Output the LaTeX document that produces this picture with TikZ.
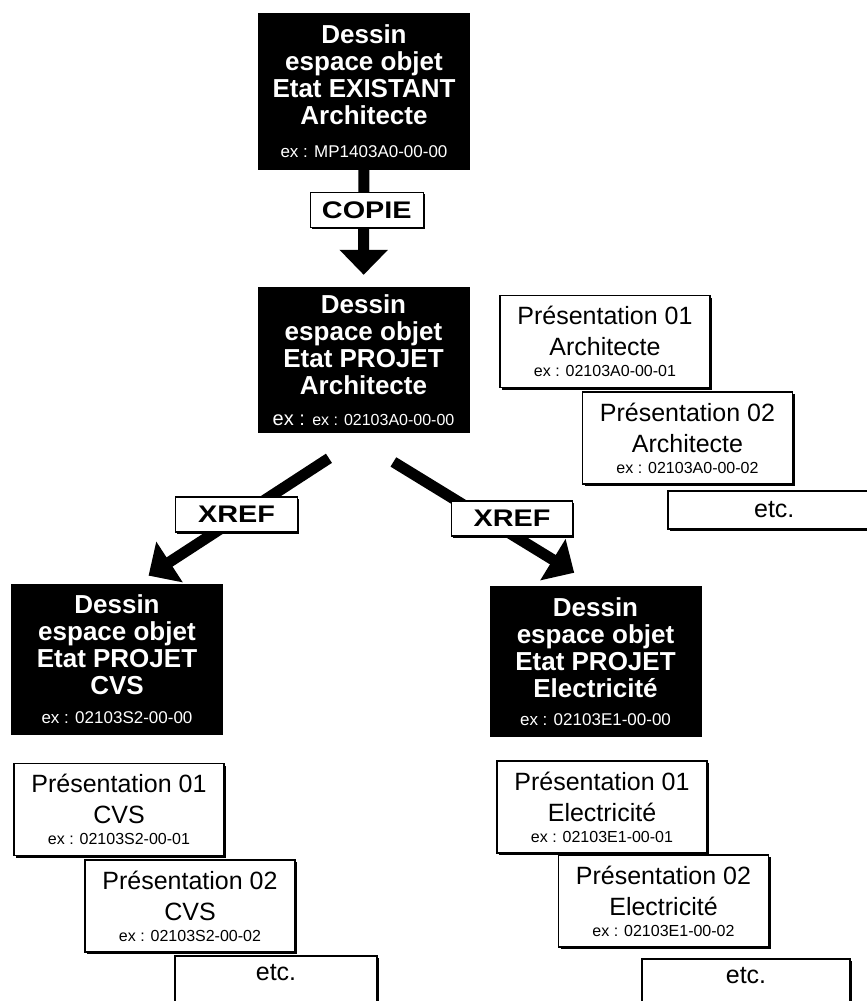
\documentclass[tikz,border=0pt]{standalone}
\usepackage{fontspec}
\setmainfont{Liberation Sans}
\usepackage{graphicx}
\usetikzlibrary{arrows.meta,shadows}
\newcommand{\petit}{\fontsize{16}{19}\selectfont\mdseries}
\newcommand{\petitnoir}{\fontsize{17}{19}\selectfont\mdseries}
\newcommand{\etire}[1]{\scalebox{1.2}[1]{#1}}

\begin{document}
\begin{tikzpicture}[x=1pt,y=-1pt,
    dessin/.style={fill=black,text=white,minimum width=212pt,inner sep=0pt,align=center,
        font=\fontsize{26}{27}\selectfont\bfseries},
    ombre/.style={drop shadow={shadow xshift=2pt,shadow yshift=-2pt,opacity=1,fill=black}},
    pres/.style={draw,line width=1.5pt,fill=white,ombre,minimum width=210pt,minimum height=92pt,
        inner sep=0pt,align=center,font=\fontsize{25}{31}\selectfont},
    etcbox/.style={pres,minimum height=38pt},
    lien/.style={draw,line width=1.5pt,fill=white,ombre,minimum height=35pt,inner sep=0pt,
        font=\fontsize{24}{24}\selectfont\bfseries},
    grosfleche/.style={line width=11pt,-{Triangle[width=47pt,length=25pt]}}]
    \useasboundingbox (0,0) rectangle (867,1001);

    % dessins (espace objet)
    \node[dessin,minimum height=157pt] (existant) at (364,91.5)
        {Dessin\\espace objet\\Etat EXISTANT\\Architecte\\[6pt]{\petitnoir ex : MP1403A0-00-00}};
    \node[dessin,minimum height=146pt] (projet) at (363.5,360)
        {Dessin\\espace objet\\Etat PROJET\\Architecte\\[4pt]{\mdseries\fontsize{20}{22}\selectfont ex : }{\petit ex : 02103A0-00-00}};
    \node[dessin,minimum height=151pt] (cvs) at (117,659.5)
        {Dessin\\espace objet\\Etat PROJET\\CVS\\[2pt]{\petitnoir ex : 02103S2-00-00}};
    \node[dessin,minimum height=151pt] (elec) at (595.5,661.5)
        {Dessin\\espace objet\\Etat PROJET\\Electricit\'e\\[1pt]{\petitnoir ex : 02103E1-00-00}};

    % fleches
    \draw[grosfleche,shorten >=12pt] (existant) -- node[lien,pos=0.34,xshift=3pt,minimum width=113pt] (copie) {\etire{COPIE}} (projet);
    \draw[grosfleche,shorten <=46pt,shorten >=15pt] ([xshift=4pt]projet.south) -- node[lien,pos=0.54,xshift=-6pt,minimum width=122pt] (xrefa) {\etire{XREF}} ([xshift=19pt]cvs.north);
    \draw[grosfleche,shorten <=55pt,shorten >=25pt] ([xshift=-17pt]projet.south) -- node[lien,pos=0.56,xshift=26pt,minimum width=121pt] (xrefb) {\etire{XREF}} (elec.north);

    % presentations architecte
    \node[pres] (pa1) at (605,341.5) {Pr\'esentation 01\\Architecte\\[-10pt]{\petit ex : 02103A0-00-01}};
    \node[pres] (pa2) at (687.5,438) {Pr\'esentation 02\\Architecte\\[-10pt]{\petit ex : 02103A0-00-02}};
    \node[etcbox,minimum width=213pt,anchor=north west] (pa3) at (667,490) {etc.};

    % presentations CVS
    \node[pres] (pc1) at (119,809.5) {Pr\'esentation 01\\CVS\\[-10pt]{\petit ex : 02103S2-00-01}};
    \node[pres] (pc2) at (190,906) {Pr\'esentation 02\\CVS\\[-10pt]{\petit ex : 02103S2-00-02}};
    \node[etcbox,minimum width=202pt,anchor=north,text height=24pt,text depth=30pt,inner ysep=1pt] (pc3) at (276,955) {etc.};

    % presentations electricite
    \node[pres] (pe1) at (602,807) {Pr\'esentation 01\\Electricit\'e\\[-10pt]{\petit ex : 02103E1-00-01}};
    \node[pres] (pe2) at (663.5,901) {Pr\'esentation 02\\Electricit\'e\\[-10pt]{\petit ex : 02103E1-00-02}};
    \node[etcbox,minimum width=208pt,anchor=north,text height=24pt,text depth=30pt,inner ysep=1pt] (pe3) at (746,958) {etc.};
\end{tikzpicture}
\end{document}
